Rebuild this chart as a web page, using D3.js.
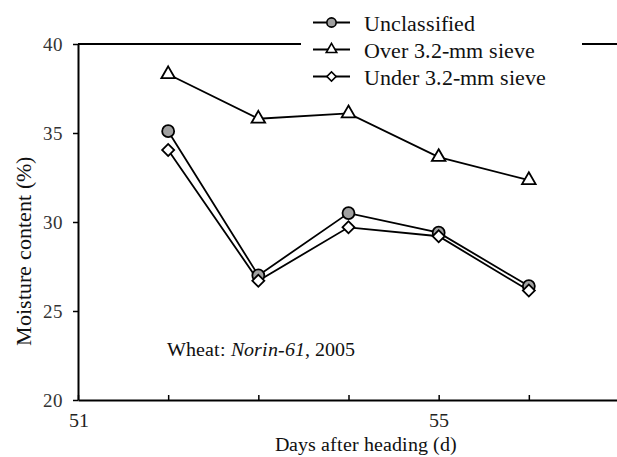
<!DOCTYPE html>
<html>
<head>
<meta charset="utf-8">
<script src="https://cdn.jsdelivr.net/npm/d3@7"></script>
<style>
  @font-face { font-family: "ChartSerif"; src: local("Liberation Serif"), local("LiberationSerif"), local("Tinos"); font-style: normal; }
  @font-face { font-family: "ChartSerif"; src: local("Liberation Serif Italic"), local("LiberationSerif-Italic"), local("Tinos Italic"); font-style: italic; }
  body { margin: 0; font-family: "ChartSerif", "Liberation Serif", serif; }
  #chart text { font-family: "ChartSerif", "Liberation Serif", Tinos, "Times New Roman", serif; }
</style>
</head>
<body>
<svg id="chart" width="617" height="457"></svg>
<script>
// Days after heading
const days = [52, 53, 54, 55, 56];
// Moisture content (%) for each fraction
const unclassified = [35.1, 27.0, 30.5, 29.4, 26.4];
const overSieve = [38.3, 35.8, 36.1, 33.65, 32.35];
const underSieve = [34.05, 26.7, 29.7, 29.2, 26.15];

const seriesNames = ["Unclassified", "Over 3.2-mm sieve", "Under 3.2-mm sieve"];
const yTicks = [20, 25, 30, 35, 40];
const xTicks = [51, 52, 53, 54, 55, 56, 57];
const xTickLabels = [51, 55];

const series = [
  { name: seriesNames[0], values: unclassified, symbol: d3.symbolCircle, size: 113, rotate: 0, fill: "#a0a0a0" },
  { name: seriesNames[1], values: overSieve, symbol: d3.symbolTriangle, size: 80, rotate: 0, fill: "#fff" },
  { name: seriesNames[2], values: underSieve, symbol: d3.symbolSquare, size: 72, rotate: 45, fill: "#fff" }
];

const svg = d3.select("#chart");
const x = d3.scaleLinear().domain([51, 57]).range([78, 619]);
const y = d3.scaleLinear().domain([20, 40]).range([400, 44]);

// Axis titles
svg.append("text")
  .attr("x", 366).attr("y", 451)
  .attr("text-anchor", "middle").attr("fill", "#111")
  .style("font-size", "20px")
  .text("Days after heading (d)");

svg.append("text")
  .attr("transform", "translate(31,251) rotate(-90)")
  .attr("text-anchor", "middle").attr("fill", "#111")
  .style("font-size", "22px")
  .text("Moisture content (%)");

// Annotation
const note = svg.append("text").attr("x", 167).attr("y", 356).attr("fill", "#111")
  .style("font-size", "20px");
note.append("tspan").text("Wheat: ");
note.append("tspan").style("font-style", "italic").text("Norin-61");
note.append("tspan").text(", 2005");

// Top frame line
svg.append("line")
  .attr("x1", x(51)).attr("x2", 617)
  .attr("y1", y(40)).attr("y2", y(40))
  .attr("stroke", "#000").attr("stroke-width", 2);

// Y axis: ticks pointing outward
const yAxis = svg.append("g").attr("transform", `translate(${x(51)},0)`)
  .call(d3.axisLeft(y).tickValues(yTicks).tickSize(5).tickSizeOuter(0).tickPadding(10));
yAxis.attr("font-family", null).attr("font-size", null);
yAxis.select(".domain").attr("stroke-width", 2);
yAxis.selectAll(".tick line").attr("stroke-width", 1.5);
yAxis.selectAll(".tick text").style("font-size", "19px").attr("fill", "#333").attr("dy", "0.36em");

// X axis: ticks pointing inward
const xAxis = svg.append("g").attr("transform", `translate(0,${y(20)})`)
  .call(d3.axisBottom(x).tickValues(xTicks).tickSizeInner(-5).tickSizeOuter(0).tickPadding(0)
    .tickFormat(d => xTickLabels.includes(d) ? d : ""));
xAxis.attr("font-family", null).attr("font-size", null);
xAxis.select(".domain").attr("stroke-width", 2);
xAxis.selectAll(".tick line").attr("stroke-width", 1.5);
xAxis.selectAll(".tick text").style("font-size", "20px").attr("fill", "#222").attr("y", 27).attr("dy", 0);

// Series lines and markers
const line = d3.line().x((d, i) => x(days[i])).y(d => y(d));
series.forEach(s => {
  svg.append("path")
    .datum(s.values)
    .attr("d", line)
    .attr("fill", "none").attr("stroke", "#000").attr("stroke-width", 1.8);
});
series.forEach(s => {
  svg.append("g").selectAll("path")
    .data(s.values)
    .join("path")
    .attr("transform", (d, i) => `translate(${x(days[i])},${y(d)}) rotate(${s.rotate})`)
    .attr("d", d3.symbol().type(s.symbol).size(s.size))
    .attr("fill", s.fill).attr("stroke", "#000").attr("stroke-width", 1.8);
});

// Legend with white background over the frame line
const legend = svg.append("g");
legend.append("rect")
  .attr("x", 301).attr("y", 4).attr("width", 281).attr("height", 88)
  .attr("fill", "#fff");
series.forEach((s, i) => {
  const base = 30.5 + i * 27;
  const cy = base - 8;
  legend.append("line")
    .attr("x1", 313).attr("x2", 350).attr("y1", cy).attr("y2", cy)
    .attr("stroke", "#000").attr("stroke-width", 1.8);
  legend.append("path")
    .attr("transform", `translate(331.5,${cy}) rotate(${s.rotate})`)
    .attr("d", d3.symbol().type(s.symbol).size(s.size * 0.6))
    .attr("fill", s.fill).attr("stroke", "#000").attr("stroke-width", 1.6);
  legend.append("text")
    .attr("x", 364).attr("y", base)
    .attr("fill", "#111")
    .style("font-size", "22px")
    .text(s.name);
});
</script>
</body>
</html>
